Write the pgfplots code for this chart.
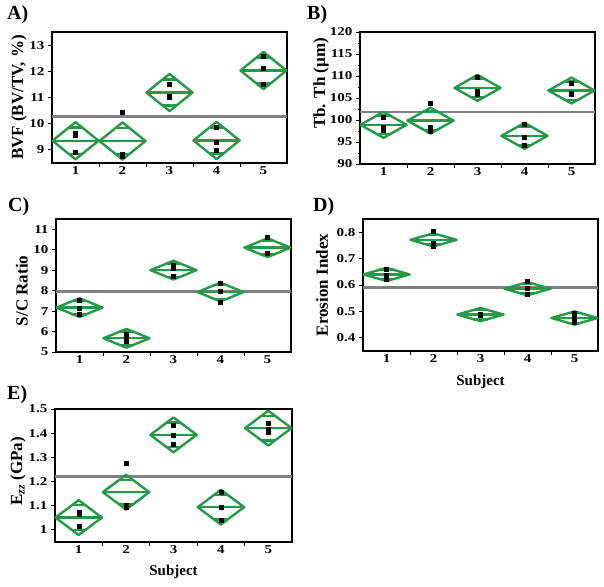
\documentclass[border=0pt]{standalone}
\usepackage{fontspec}
\setmainfont{Liberation Serif}
\newfontfamily\tickfont{Liberation Serif}[FakeStretch=1.25]
\usepackage{pgfplots}
\pgfplotsset{compat=1.18}
\definecolor{dgreen}{RGB}{35,155,70}
\definecolor{mgray}{RGB}{128,128,128}
\newcommand{\labfont}{\bfseries\fontsize{17}{17}\selectfont}
\pgfplotsset{
  jmp/.style={
    scale only axis,
    width=235pt,
    xmin=0.5, xmax=5.5,
    xtick={1.5,2.5,3.5,4.5}, xticklabels={},
    extra x ticks={1,2,3,4,5},
    extra x tick labels={1,2,3,4,5},
    extra x tick style={major tick length=0pt},
    tick align=outside,
    xtick pos=left, ytick pos=left,
    major tick length=4pt, minor tick length=2.5pt,
    minor y tick num=1,
    axis line style={line width=1.1pt},
    every tick/.style={black, line width=0.9pt},
    tick label style={font=\tickfont\bfseries\fontsize{12}{12}\selectfont},
    /pgf/number format/assume math mode=true,
    unbounded coords=jump,
    every axis x label/.style={at={(axis description cs:0.5,-0.265)}, anchor=base, font=\bfseries\fontsize{15}{15}\selectfont},
  },
  dia/.style={draw=dgreen, line width=2.4pt, line join=round, line cap=round, mark=none},
  pts/.style={only marks, mark=square*, mark size=2pt, black},
  gm/.style={draw=mgray, line width=2.8pt, mark=none},
}
\begin{document}
\begin{tikzpicture}[x=1pt,y=1pt]
\useasboundingbox (0,0) rectangle (604,586);
% ---------------- A
\begin{axis}[jmp, at={(52pt,423pt)}, anchor=south west, height=131pt,
  ymin=8.5, ymax=13.5, ytick={9,10,11,12,13}, minor y tick num=0,
  ylabel={BVF (BV/TV, \%)},
  every axis y label/.style={at={(axis description cs:-0.14,0.5)}, rotate=90, anchor=center, font=\labfont}]
\addplot[gm] coordinates {(0.5,10.26)(5.5,10.26)};
\addplot[dia] coordinates {
(0.51,9.35)(1,10.06)(1.49,9.35)(1,8.64)(0.51,9.35)(1,nan)
(1.51,9.34)(2,10.05)(2.49,9.34)(2,8.63)(1.51,9.34)(2,nan)
(2.51,11.19)(3,11.90)(3.49,11.19)(3,10.48)(2.51,11.19)(3,nan)
(3.51,9.36)(4,10.07)(4.49,9.36)(4,8.65)(3.51,9.36)(4,nan)
(4.51,12.03)(5,12.74)(5.49,12.03)(5,11.32)(4.51,12.03)};
\addplot[dia] coordinates {
(0.51,9.35)(1.49,9.35)(1,nan)(0.86,9.85)(1.14,9.85)(1,nan)(0.86,8.85)(1.14,8.85)(1,nan)
(1.51,9.34)(2.49,9.34)(2,nan)(1.86,9.84)(2.14,9.84)(2,nan)(1.86,8.84)(2.14,8.84)(2,nan)
(2.51,11.19)(3.49,11.19)(3,nan)(2.86,11.69)(3.14,11.69)(3,nan)(2.86,10.69)(3.14,10.69)(3,nan)
(3.51,9.36)(4.49,9.36)(4,nan)(3.86,9.86)(4.14,9.86)(4,nan)(3.86,8.86)(4.14,8.86)(4,nan)
(4.51,12.03)(5.49,12.03)(5,nan)(4.86,12.53)(5.14,12.53)(5,nan)(4.86,11.53)(5.14,11.53)};
\addplot[pts] coordinates {(1,9.62)(1,9.55)(1,8.90)(2,10.45)(2,8.85)(2,8.75)(3,11.52)(3,11.05)(3,11.02)(4,9.86)(4,9.29)(4,9.00)(5,12.58)(5,12.13)(5,11.49)};
\end{axis}
% ---------------- B
\begin{axis}[jmp, at={(360pt,422pt)}, anchor=south west, height=132pt,
  ymin=90, ymax=120, ytick={90,95,...,120},
  ylabel={Tb. Th (\textmu m)},
  every axis y label/.style={at={(axis description cs:-0.166,0.61)}, rotate=90, anchor=center, font=\labfont}]
\addplot[gm] coordinates {(0.5,101.8)(5.5,101.8)};
\addplot[dia] coordinates {
(0.51,98.9)(1,101.85)(1.49,98.9)(1,95.95)(0.51,98.9)(1,nan)
(1.51,99.85)(2,102.8)(2.49,99.85)(2,96.9)(1.51,99.85)(2,nan)
(2.51,107.3)(3,110.25)(3.49,107.3)(3,104.35)(2.51,107.3)(3,nan)
(3.51,96.4)(4,99.35)(4.49,96.4)(4,93.45)(3.51,96.4)(4,nan)
(4.51,106.7)(5,109.65)(5.49,106.7)(5,103.75)(4.51,106.7)};
\addplot[dia] coordinates {
(0.51,98.9)(1.49,98.9)(1,nan)(0.86,100.99)(1.14,100.99)(1,nan)(0.86,96.81)(1.14,96.81)(1,nan)
(1.51,99.85)(2.49,99.85)(2,nan)(1.86,101.94)(2.14,101.94)(2,nan)(1.86,97.76)(2.14,97.76)(2,nan)
(2.51,107.3)(3.49,107.3)(3,nan)(2.86,109.39)(3.14,109.39)(3,nan)(2.86,105.21)(3.14,105.21)(3,nan)
(3.51,96.4)(4.49,96.4)(4,nan)(3.86,98.49)(4.14,98.49)(4,nan)(3.86,94.31)(4.14,94.31)(4,nan)
(4.51,106.7)(5.49,106.7)(5,nan)(4.86,108.79)(5.14,108.79)(5,nan)(4.86,104.61)(5.14,104.61)};
\addplot[pts] coordinates {(1,100.7)(1,98.3)(1,97.6)(2,103.8)(2,98.3)(2,97.5)(3,109.8)(3,106.5)(3,105.8)(4,99.0)(4,96.1)(4,94.3)(5,108.4)(5,106.0)(5,105.8)};
\end{axis}
% ---------------- C
\begin{axis}[jmp, at={(56pt,234pt)}, anchor=south west, height=133pt,
  ymin=5, ymax=11.5, ytick={5,...,11}, minor y tick num=0,
  ylabel={S/C Ratio},
  every axis y label/.style={at={(axis description cs:-0.145,0.46)}, rotate=90, anchor=center, font=\labfont}]
\addplot[gm] coordinates {(0.5,7.96)(5.5,7.96)};
\addplot[dia] coordinates {
(0.51,7.17)(1,7.63)(1.49,7.17)(1,6.71)(0.51,7.17)(1,nan)
(1.51,5.67)(2,6.13)(2.49,5.67)(2,5.21)(1.51,5.67)(2,nan)
(2.51,9.00)(3,9.46)(3.49,9.00)(3,8.54)(2.51,9.00)(3,nan)
(3.51,7.93)(4,8.39)(4.49,7.93)(4,7.47)(3.51,7.93)(4,nan)
(4.51,10.10)(5,10.56)(5.49,10.10)(5,9.64)(4.51,10.10)};
\addplot[dia] coordinates {
(0.51,7.17)(1.49,7.17)(1,nan)(0.86,7.50)(1.14,7.50)(1,nan)(0.86,6.84)(1.14,6.84)(1,nan)
(1.51,5.67)(2.49,5.67)(2,nan)(1.86,6.00)(2.14,6.00)(2,nan)(1.86,5.34)(2.14,5.34)(2,nan)
(2.51,9.00)(3.49,9.00)(3,nan)(2.86,9.33)(3.14,9.33)(3,nan)(2.86,8.67)(3.14,8.67)(3,nan)
(3.51,7.93)(4.49,7.93)(4,nan)(3.86,8.26)(4.14,8.26)(4,nan)(3.86,7.60)(4.14,7.60)(4,nan)
(4.51,10.10)(5.49,10.10)(5,nan)(4.86,10.43)(5.14,10.43)(5,nan)(4.86,9.77)(5.14,9.77)};
\addplot[pts] coordinates {(1,7.55)(1,7.15)(1,6.85)(2,5.88)(2,5.62)(2,5.52)(3,9.22)(3,9.10)(3,8.72)(4,8.35)(4,7.96)(4,7.43)(5,10.62)(5,9.85)(5,9.83)};
\end{axis}
% ---------------- D
\begin{axis}[jmp, at={(363pt,235pt)}, anchor=south west, height=132pt,
  ymin=0.35, ymax=0.85, ytick={0.4,0.5,0.6,0.7,0.8}, minor y tick num=0,
  yticklabel style={/pgf/number format/.cd, fixed, fixed zerofill, precision=1},
  ylabel={Erosion Index}, xlabel={Subject},
  every axis y label/.style={at={(axis description cs:-0.174,0.5)}, rotate=90, anchor=center, font=\labfont}]
\addplot[gm] coordinates {(0.5,0.592)(5.5,0.592)};
\addplot[dia] coordinates {
(0.51,0.640)(1,0.665)(1.49,0.640)(1,0.615)(0.51,0.640)(1,nan)
(1.51,0.771)(2,0.796)(2.49,0.771)(2,0.746)(1.51,0.771)(2,nan)
(2.51,0.488)(3,0.513)(3.49,0.488)(3,0.463)(2.51,0.488)(3,nan)
(3.51,0.586)(4,0.611)(4.49,0.586)(4,0.561)(3.51,0.586)(4,nan)
(4.51,0.475)(5,0.500)(5.49,0.475)(5,0.450)(4.51,0.475)};
\addplot[dia] coordinates {
(0.51,0.640)(1.49,0.640)(1,nan)(0.86,0.658)(1.14,0.658)(1,nan)(0.86,0.622)(1.14,0.622)(1,nan)
(1.51,0.771)(2.49,0.771)(2,nan)(1.86,0.789)(2.14,0.789)(2,nan)(1.86,0.753)(2.14,0.753)(2,nan)
(2.51,0.488)(3.49,0.488)(3,nan)(2.86,0.506)(3.14,0.506)(3,nan)(2.86,0.470)(3.14,0.470)(3,nan)
(3.51,0.586)(4.49,0.586)(4,nan)(3.86,0.604)(4.14,0.604)(4,nan)(3.86,0.568)(4.14,0.568)(4,nan)
(4.51,0.475)(5.49,0.475)(5,nan)(4.86,0.493)(5.14,0.493)(5,nan)(4.86,0.457)(5.14,0.457)};
\addplot[pts] coordinates {(1,0.661)(1,0.638)(1,0.623)(2,0.802)(2,0.757)(2,0.748)(3,0.491)(3,0.486)(3,0.487)(4,0.613)(4,0.588)(4,0.566)(5,0.493)(5,0.475)(5,0.459)};
\end{axis}
% ---------------- E
\begin{axis}[jmp, at={(55pt,44pt)}, anchor=south west, width=237pt, height=133pt,
  ymin=0.95, ymax=1.5, ytick={1,1.1,1.2,1.3,1.4,1.5}, minor y tick num=0,
  ylabel={E\textsubscript{\itshape zz} (GPa)}, xlabel={Subject},
  every axis x label/.style={at={(axis description cs:0.5,-0.25)}, anchor=base, font=\bfseries\fontsize{15}{15}\selectfont},
  every axis y label/.style={at={(axis description cs:-0.156,0.53)}, rotate=90, anchor=center, font=\labfont}]
\addplot[gm] coordinates {(0.5,1.222)(5.5,1.222)};
\addplot[dia] coordinates {
(0.51,1.051)(1,1.123)(1.49,1.051)(1,0.979)(0.51,1.051)(1,nan)
(1.51,1.156)(2,1.228)(2.49,1.156)(2,1.084)(1.51,1.156)(2,nan)
(2.51,1.393)(3,1.465)(3.49,1.393)(3,1.321)(2.51,1.393)(3,nan)
(3.51,1.094)(4,1.166)(4.49,1.094)(4,1.022)(3.51,1.094)(4,nan)
(4.51,1.421)(5,1.493)(5.49,1.421)(5,1.349)(4.51,1.421)};
\addplot[dia] coordinates {
(0.51,1.051)(1.49,1.051)(1,nan)(0.86,1.102)(1.14,1.102)(1,nan)(0.86,1.000)(1.14,1.000)(1,nan)
(1.51,1.156)(2.49,1.156)(2,nan)(1.86,1.207)(2.14,1.207)(2,nan)(1.86,1.105)(2.14,1.105)(2,nan)
(2.51,1.393)(3.49,1.393)(3,nan)(2.86,1.444)(3.14,1.444)(3,nan)(2.86,1.342)(3.14,1.342)(3,nan)
(3.51,1.094)(4.49,1.094)(4,nan)(3.86,1.145)(4.14,1.145)(4,nan)(3.86,1.043)(4.14,1.043)(4,nan)
(4.51,1.421)(5.49,1.421)(5,nan)(4.86,1.472)(5.14,1.472)(5,nan)(4.86,1.370)(5.14,1.370)};
\addplot[pts] coordinates {(1,1.074)(1,1.066)(1,1.015)(2,1.275)(2,1.104)(2,1.093)(3,1.435)(3,1.393)(3,1.354)(4,1.154)(4,1.094)(4,1.042)(5,1.443)(5,1.417)(5,1.403)};
\end{axis}
% panel labels
\begin{scope}[every node/.style={anchor=base west, inner sep=0pt, font=\bfseries\fontsize{20}{20}\selectfont}]
\node at (7,566) {A)};
\node at (307,566) {B)};
\node at (8,374) {C)};
\node at (313,374) {D)};
\node at (7,186) {E)};
\end{scope}
\end{tikzpicture}
\end{document}
